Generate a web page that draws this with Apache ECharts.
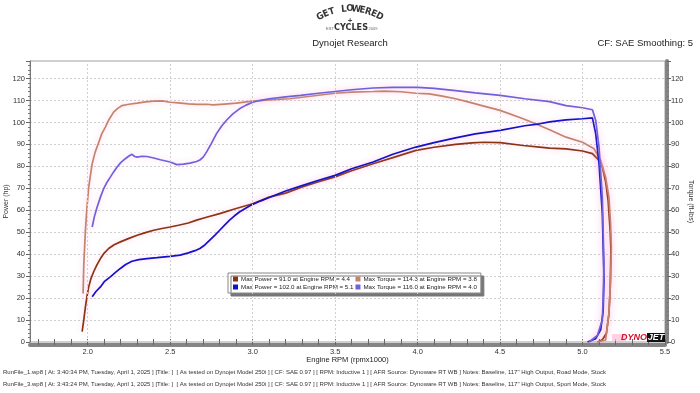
<!DOCTYPE html>
<html><head><meta charset="utf-8">
<script src="https://cdn.jsdelivr.net/npm/echarts@6/dist/echarts.min.js"></script>
<style>html,body{margin:0;padding:0;background:#fff}#c{width:700px;height:393px}</style>
</head><body><div id="c"></div><script>
// ---- axis values ----
const xLabelValues = [2.0, 2.5, 3.0, 3.5, 4.0, 4.5, 5.0, 5.5];
const xTickValues = [1.7,1.8,1.9,2.0,2.1,2.2,2.3,2.4,2.5,2.6,2.7,2.8,2.9,3.0,3.1,3.2,3.3,3.4,3.5,3.6,3.7,3.8,3.9,4.0,4.1,4.2,4.3,4.4,4.5,4.6,4.7,4.8,4.9,5.0,5.1,5.2,5.3,5.4,5.5];
const xGridValues = [2.0, 2.5, 3.0, 3.5, 4.0, 4.5, 5.0];

// ---- Run 1 (RunFile_1) Power (hp) ----
const run1PowerRpm = [1.966,1.976,1.986,1.996,2.006,2.02,2.036,2.055,2.077,2.10,2.127,2.16,2.198,2.25,2.30,2.35,2.40,2.45,2.50,2.55,2.61,2.66,2.72,2.80,2.90,3.00,3.10,3.20,3.30,3.40,3.50,3.60,3.73,3.85,3.99,4.10,4.23,4.33,4.40,4.50,4.64,4.74,4.80,4.90,5.00,5.06,5.10,5.12,5.14,5.155,5.168,5.172,5.168,5.16,5.145,5.12,5.09];
const run1Power    = [4.7,10,16,21,25.1,29,32,35,38,40.5,42.6,44.3,45.6,47.2,48.6,49.8,50.9,51.7,52.4,53.2,54.2,55.5,56.8,58.5,60.8,63,66,67.8,70.6,73,75.2,78,81.2,84,87.3,88.7,90,90.7,91,90.8,89.5,88.8,88.3,88,87,85.8,82.7,79.7,73,64.5,50,42,25,12.8,4,1,0];

// ---- Run 1 Torque (ft-lbs) ----
const run1TorqueRpm = [1.972,1.976,1.986,1.995,2.006,2.027,2.045,2.067,2.085,2.107,2.13,2.157,2.18,2.208,2.25,2.30,2.35,2.40,2.45,2.50,2.55,2.61,2.66,2.72,2.76,2.83,2.90,3.00,3.10,3.225,3.30,3.40,3.50,3.60,3.73,3.80,3.90,3.99,4.07,4.15,4.23,4.30,4.39,4.50,4.64,4.74,4.80,4.90,5.00,5.07,5.11,5.14,5.16,5.17,5.175,5.17,5.16,5.14,5.09];
const run1Torque    = [22.1,35,50.9,61,70.6,81.2,86.5,91,94.8,97.9,101.5,104.7,106.3,107.7,108.3,108.8,109.4,109.7,109.8,109.2,108.9,108.5,108.2,108.3,108,108.4,108.8,109.7,110.3,110.8,111.5,112.4,113.3,113.8,114.1,114.3,114,113.3,113,112,110.8,109.5,107.7,105.5,101.7,98.6,96.7,93.3,91,88,82.7,75.1,66,54,43.3,28,13,0.9,0];

// ---- Run 2 (RunFile_3) Power (hp) ----
const run2PowerRpm = [2.027,2.05,2.077,2.10,2.137,2.17,2.198,2.23,2.268,2.31,2.359,2.42,2.50,2.56,2.61,2.65,2.68,2.71,2.74,2.77,2.80,2.83,2.86,2.89,2.92,2.96,3.00,3.05,3.10,3.20,3.29,3.40,3.50,3.60,3.73,3.85,3.99,4.10,4.23,4.35,4.50,4.65,4.74,4.80,4.90,5.00,5.06,5.08,5.10,5.12,5.13,5.125,5.11,5.08,5.03];
const run2Power    = [20.6,23,25.1,27.5,29.7,31.8,33.5,35.3,36.8,37.5,38,38.4,39,39.6,40.6,41.6,42.6,44.2,46.4,48.6,50.9,53.2,55.5,57.5,59.2,61,62.7,64.3,65.8,68.8,71,73.7,75.9,78.9,82,85.5,88.8,90.8,93,94.8,96.4,98.5,99.4,100.3,101.2,101.7,102.1,94.8,81.2,58.5,28.2,14,5.5,1.5,0];

// ---- Run 2 Torque (ft-lbs) ----
const run2TorqueRpm = [2.027,2.04,2.057,2.077,2.097,2.117,2.137,2.158,2.178,2.20,2.228,2.25,2.268,2.285,2.30,2.33,2.359,2.40,2.44,2.50,2.54,2.58,2.62,2.66,2.68,2.70,2.72,2.75,2.78,2.81,2.84,2.88,2.92,2.96,3.00,3.05,3.10,3.20,3.29,3.40,3.50,3.60,3.73,3.85,4.00,4.10,4.23,4.35,4.50,4.65,4.80,4.90,5.00,5.06,5.08,5.10,5.12,5.13,5.125,5.12,5.09,5.04];
const run2Torque    = [52.4,57,61.5,66,69.9,72.8,75.1,77.6,79.7,81.7,83.5,84.7,85.5,84.5,84.2,84.6,84.5,83.8,83,82,80.8,81,81.5,82.2,82.9,84.2,86.5,90.5,94.8,98.2,100.9,103.9,106.2,107.9,109.2,110.1,110.8,111.7,112.3,113.3,114.1,114.9,115.7,116,116,115.5,114.5,113.5,112.3,110.8,109.5,107.7,106.7,105.8,100.9,88.8,66,35.8,20,10,3,0];

// ---- legend texts ----
const legendNames = [
  'Max Power = 91.0 at Engine RPM = 4.4',
  'Max Power = 102.0 at Engine RPM = 5.1',
  'Max Torque = 114.3 at Engine RPM = 3.8',
  'Max Torque = 116.0 at Engine RPM = 4.0'
];
const runInfo = [
  'RunFile_1.wp8 [ At: 3:40:34 PM, Tuesday, April 1, 2025 ] [Title: ]  [ As tested on Dynojet Model 250i ] [ CF: SAE 0.97 ] [ RPM: Inductive 1 ] [ AFR Source: Dynoware RT WB ] Notes: Baseline, 117" High Output, Road Mode, Stock',
  'RunFile_3.wp8 [ At: 3:43:24 PM, Tuesday, April 1, 2025 ] [Title: ]  [ As tested on Dynojet Model 250i ] [ CF: SAE 0.97 ] [ RPM: Inductive 1 ] [ AFR Source: Dynoware RT WB ] Notes: Baseline, 117" High Output, Sport Mode, Stock'
];

const zip = (a, b) => a.map((v, i) => [v, b[i]]);
const FONT = '"Liberation Sans", Arial, sans-serif';
const glow = { shadowColor: 'rgba(255,140,200,0.45)', shadowBlur: 6 };

function line(name, rpm, vals, color, yIdx, z) {
  return {
    name, type: 'line', yAxisIndex: yIdx, data: zip(rpm, vals),
    showSymbol: false, symbol: 'none', smooth: false, z,
    color,
    lineStyle: Object.assign({ color, width: 1.7 }, glow),
    emphasis: { disabled: true }, animation: false
  };
}

const series = [
  line(legendNames[0], run1PowerRpm, run1Power, '#8B3412', 0, 3),
  line(legendNames[1], run2PowerRpm, run2Power, '#1212C8', 0, 4),
  line(legendNames[2], run1TorqueRpm, run1Torque, '#C4846C', 1, 3),
  line(legendNames[3], run2TorqueRpm, run2Torque, '#6C62DC', 1, 4)
];
series[0].markLine = {
  silent: true, symbol: 'none', label: { show: false },
  lineStyle: { color: '#cfcfcf', type: [2, 2], width: 1, shadowBlur: 0 },
  data: xGridValues.map(v => ({ xAxis: v }))
};

// logo letters along an arc
const logoGraphics = [];
const logoWord = 'GET LOWERED';
const cx = 350, cy = 70, r = 61;
for (let i = 0; i < logoWord.length; i++) {
  const th = (-29 + 58 * i / (logoWord.length - 1)) * Math.PI / 180;
  logoGraphics.push({
    type: 'text', x: cx + r * Math.sin(th), y: cy - r * Math.cos(th), rotation: -th,
    style: { text: logoWord[i], font: 'bold 9.5px "DejaVu Sans Condensed", "Liberation Sans Narrow", ' + FONT, fill: '#333', align: 'center', verticalAlign: 'middle' }
  });
}

const chart = echarts.init(document.getElementById('c'), null, { renderer: 'canvas' });
chart.setOption({
  animation: false,
  backgroundColor: '#fff',
  grid: { left: 30, right: 35, top: 61, bottom: 51, show: true, borderColor: '#a0a0a0', borderWidth: 1, containLabel: false, outerBoundsMode: 'none' },
  legend: {
    orient: 'vertical', left: 228, top: 273, height: 20,
    data: legendNames, icon: 'rect', itemWidth: 5, itemHeight: 5, itemGap: 2,
    padding: [3, 4, 3, 5], backgroundColor: '#fff', borderColor: '#888', borderWidth: 1,
    shadowColor: '#777', shadowOffsetX: 3, shadowOffsetY: 3, shadowBlur: 0,
    textStyle: { fontSize: 6.2, fontFamily: FONT, color: '#222', padding: [0, 0, 0, -2] },
    selectedMode: false
  },
  xAxis: {
    type: 'value', min: 1.65, max: 5.5,
    name: 'Engine RPM (rpmx1000)', nameLocation: 'middle', nameGap: 11, nameMoveOverlap: false,
    nameTextStyle: { fontSize: 7.5, fontFamily: FONT, color: '#222' },
    axisLine: { show: true, onZero: false, lineStyle: { color: '#858585', width: 4 } },
    offset: 3,
    axisTick: { show: true, inside: true, length: 6, customValues: xTickValues, lineStyle: { color: '#666', width: 1 } },
    axisLabel: { customValues: xLabelValues, fontSize: 7.5, fontFamily: FONT, color: '#333', margin: 3, formatter: v => v.toFixed(1) },
    splitLine: { show: false }
  },
  yAxis: [{
    type: 'value', min: 0, max: 128, interval: 10, position: 'left',
    name: 'Power (hp)', nameLocation: 'middle', nameGap: 20, nameRotate: 90, nameMoveOverlap: false,
    nameTextStyle: { fontSize: 7, fontFamily: FONT, color: '#333' },
    axisLine: { show: true, lineStyle: { color: '#777', width: 1 } },
    axisTick: { show: true, length: 4, lineStyle: { color: '#666' } },
    minorTick: { show: true, splitNumber: 5, length: 2, lineStyle: { color: '#777' } },
    axisLabel: { fontSize: 7.5, fontFamily: FONT, color: '#333', margin: 5, formatter: v => (v % 10 === 0 ? String(v) : '') },
    splitLine: { show: true, lineStyle: { color: '#cfcfcf', type: [2, 2], width: 1 } }
  }, {
    type: 'value', min: 0, max: 128, interval: 10, position: 'right',
    name: 'Torque (ft-lbs)', nameLocation: 'middle', nameGap: 20, nameRotate: -90, nameMoveOverlap: false,
    nameTextStyle: { fontSize: 7, fontFamily: FONT, color: '#333' },
    offset: 2,
    axisLine: { show: true, lineStyle: { color: '#858585', width: 4 } },
    axisTick: { show: true, length: 4, lineStyle: { color: '#666' } },
    minorTick: { show: true, splitNumber: 5, length: 2, lineStyle: { color: '#777' } },
    axisLabel: { fontSize: 7.5, fontFamily: FONT, color: '#333', margin: 4, formatter: v => (v % 10 === 0 ? String(v) : '') },
    splitLine: { show: false }
  }],
  graphic: [
    ...logoGraphics,
    { type: 'text', x: 350, y: 21, style: { text: '+', font: 'bold 8px ' + FONT, fill: '#444', align: 'center', verticalAlign: 'middle' } },
    { type: 'text', x: 351, y: 28, style: { text: 'CYCLES', font: 'bold 9px "DejaVu Sans Condensed", ' + FONT, fill: '#333', align: 'center', verticalAlign: 'middle' } },
    { type: 'text', x: 330, y: 28.5, style: { text: 'EST', font: '4px ' + FONT, fill: '#666', align: 'center', verticalAlign: 'middle' } },
    { type: 'text', x: 373, y: 28.5, style: { text: '2009', font: '4px ' + FONT, fill: '#666', align: 'center', verticalAlign: 'middle' } },
    { type: 'text', x: 350, y: 43, style: { text: 'Dynojet Research', font: '9.5px ' + FONT, fill: '#222', align: 'center', verticalAlign: 'middle' } },
    { type: 'text', x: 693, y: 43, style: { text: 'CF: SAE Smoothing: 5', font: '9.5px ' + FONT, fill: '#222', align: 'right', verticalAlign: 'middle' } },
    { type: 'text', x: 3, y: 372, style: { text: runInfo[0], font: '6px ' + FONT, fill: '#333', verticalAlign: 'middle' } },
    { type: 'text', x: 3, y: 384, style: { text: runInfo[1], font: '6px ' + FONT, fill: '#333', verticalAlign: 'middle' } },
    { type: 'rect', shape: { x: 612, y: 334, width: 14, height: 7 }, style: { fill: 'rgba(255,190,215,0.7)' }, z: 10 },
    { type: 'rect', shape: { x: 647, y: 333, width: 18, height: 9 }, style: { fill: '#111' }, z: 10 },
    { type: 'text', x: 634, y: 338, z: 11, style: { text: 'DYNO', font: 'italic bold 9px ' + FONT, fill: '#d4102c', align: 'center', verticalAlign: 'middle' } },
    { type: 'text', x: 656, y: 338, z: 11, style: { text: 'JET', font: 'italic bold 9px ' + FONT, fill: '#fff', align: 'center', verticalAlign: 'middle' } }
  ],
  series
});
</script></body></html>
